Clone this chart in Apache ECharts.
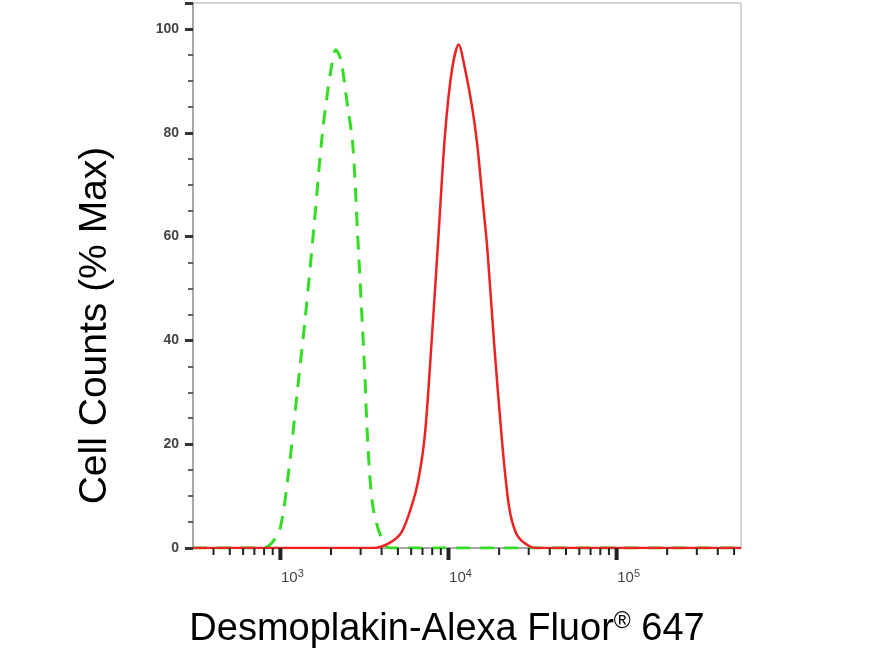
<!DOCTYPE html><html><head><meta charset="utf-8"><script src="https://cdn.jsdelivr.net/npm/echarts@6/dist/echarts.min.js"></script></head><body style="margin:0"><div id="c" style="width:892px;height:656px"></div><script>
var greenLog=[2.48,2.90,2.95,3.00,3.05,3.10,3.15,3.20,3.25,3.30,3.33,3.36,3.40,3.43,3.46,3.50,3.52,3.55,3.60,3.65,5.74];
var greenVal=[0,0,1,4,15,30,45,62,80,92,96,94,85,78,60,35,20,8,2,0,0];
var redLog=[2.48,3.55,3.65,3.72,3.78,3.82,3.86,3.90,3.94,3.98,4.02,4.06,4.10,4.14,4.17,4.20,4.23,4.27,4.32,4.36,4.40,4.45,4.52,5.74];
var redVal=[0,0,1,3,8,13,22,40,60,80,92,97,92,85,78,68,58,40,20,8,3,1,0,0];
var majorTicks=[3,4,5];
var minorMult=[2,3,4,5,6,7,8,9];
var decades=[2,3,4,5];
var xMin=2.48,xMax=5.74;
var minor=[];decades.forEach(function(d){minorMult.forEach(function(m){var v=d+Math.log10(m);if(v>xMin&&v<xMax)minor.push(v);});});
function z(a,b){return a.map(function(v,i){return [v,b[i]];});}
var ch=echarts.init(document.getElementById('c'));
ch.setOption({animation:false,
grid:{left:193,right:151,top:3,bottom:108,show:true,borderColor:'#aaa',borderWidth:1},
xAxis:{type:'value',min:xMin,max:xMax,splitLine:{show:false},axisLine:{lineStyle:{color:'#999',width:1.5}},axisTick:{show:false},axisLabel:{show:false},
 name:'Desmoplakin-Alexa Fluor{s|®} 647',nameLocation:'middle',nameGap:62,nameTextStyle:{fontFamily:'Liberation Sans',fontSize:38,color:'#000',padding:[0,40,0,0],rich:{s:{fontSize:23,verticalAlign:'top',padding:[0,0,17,0],color:'#000'}}}},
yAxis:{type:'value',min:0,max:105,interval:20,splitLine:{show:false},axisLine:{show:true,lineStyle:{color:'#999',width:1.5}},
 axisTick:{show:true,length:8,lineStyle:{color:'#333',width:3}},minorTick:{show:true,splitNumber:4,length:5,lineStyle:{color:'#333',width:1.5}},
 axisLabel:{showMaxLabel:false,color:'#444',fontFamily:'Liberation Sans',fontWeight:'bold',fontSize:14,margin:14},
 name:'Cell Counts (% Max)',nameLocation:'middle',nameGap:78,nameTextStyle:{fontFamily:'Liberation Sans',fontSize:39,color:'#000',padding:[0,100,0,0]}},
series:[
{type:'line',data:z(greenLog,greenVal),showSymbol:false,smooth:0.3,lineStyle:{color:'#33dd22',width:3,type:[14,10]},z:3},
{type:'line',data:z(redLog,redVal),showSymbol:false,smooth:0.3,lineStyle:{color:'#ee2222',width:2.5},z:4},
{type:'custom',data:majorTicks.map(function(v){return [v,1]}).concat(minor.map(function(v){return [v,0]})),z:5,
 renderItem:function(p,api){var pt=api.coord([api.value(0),0]);var maj=api.value(1)===1;var els=[{type:'line',shape:{x1:pt[0],y1:pt[1],x2:pt[0],y2:pt[1]+(maj?12:7)},style:{stroke:'#222',lineWidth:maj?4:2}}];
  if(maj){els.push({type:'text',style:{text:'10{s|'+api.value(0)+'}',x:pt[0]+12,y:pt[1]+30,align:'center',verticalAlign:'middle',fill:'#444',font:'15px Liberation Sans',rich:{s:{fontSize:11,verticalAlign:'top',padding:[0,0,9,0],fill:'#444'}}}});}
  return {type:'group',children:els};}}
]});
</script></body></html>
